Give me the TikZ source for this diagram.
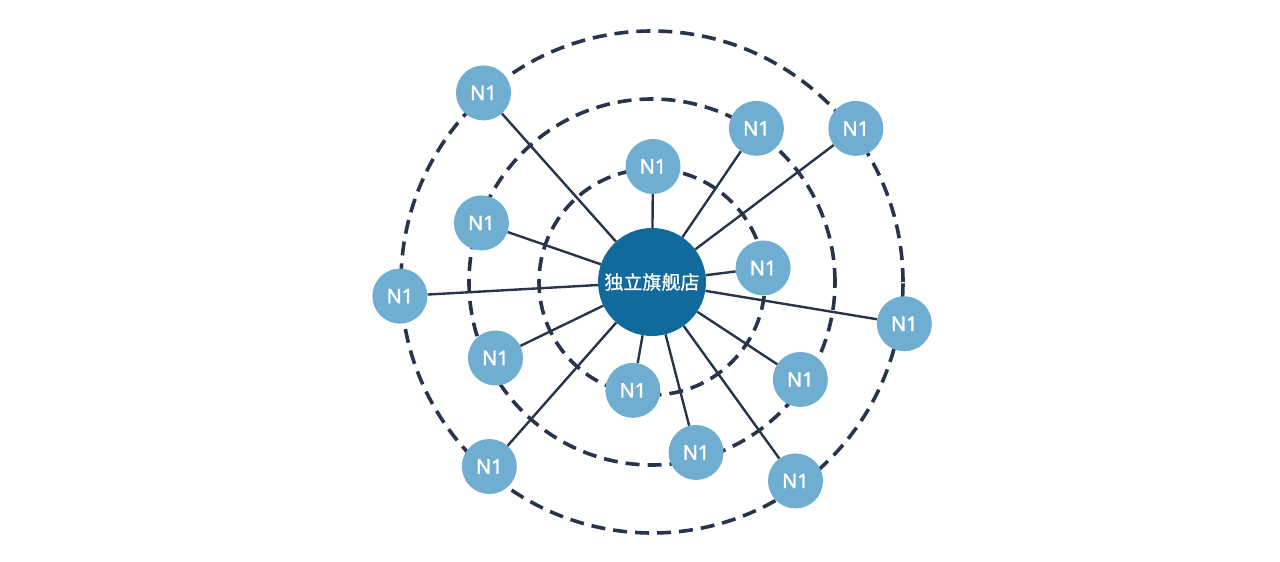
\documentclass[tikz,border=0pt]{standalone}
\usepackage{fontspec}
\newfontfamily\labelfont{Noto Sans}[FakeBold=1.6]
\newfontfamily\cjk{Noto Sans CJK SC}[FakeBold=0.8]
\usepackage{tikz}
\usetikzlibrary{arrows,positioning}
\definecolor{nodeblue}{HTML}{6FAED1}
\definecolor{hubblue}{HTML}{12699B}
\definecolor{linenavy}{HTML}{28334C}
\tikzstyle{nv}=[circle, fill=nodeblue, text=white, inner sep=0pt, minimum size=55pt, font=\labelfont\fontsize{20}{20}\selectfont]
\tikzstyle{hub}=[circle, fill=hubblue, text=white, inner sep=0pt, minimum size=108pt, font=\cjk\fontsize{19}{19}\selectfont]
\tikzstyle{ring}=[draw=linenavy, line width=3.6pt, dash pattern=on 14pt off 8pt]
\tikzstyle{spoke}=[draw=linenavy, line width=2.4pt]

\begin{document}
\begin{tikzpicture}[x=1pt, y=1pt]
\useasboundingbox (-652,-280) rectangle (628,282);
%
  \coordinate (o) at (0,0);
  \draw[ring] (o) circle (113pt);
  \draw[ring] (o) circle (183pt);
  \draw[ring] (o) circle (251pt);
%
  \node[hub] (shop) at (o) {独立旗舰店};
%
  \node[nv] (na) at (131.7:253.3) {N1};
  \node[nv] (nb) at (55.8:185.8) {N1};
  \node[nv] (nc) at (37.0:255.2) {N1};
  \node[nv] (nd) at (89.5:115.5) {N1};
  \node[nv] (ne) at (160.9:180.5) {N1};
  \node[nv] (nf) at (7.2:112) {N1};
  \node[nv] (ng) at (183.2:252.5) {N1};
  \node[nv] (nh) at (-9.4:255.8) {N1};
  \node[nv] (ni) at (205.9:174) {N1};
  \node[nv] (nj) at (260:110) {N1};
  \node[nv] (nk) at (-33.3:177.5) {N1};
  \node[nv] (nl) at (-75.5:176.1) {N1};
  \node[nv] (nm) at (228.6:246) {N1};
  \node[nv] (nn) at (-54.2:245.3) {N1};
%
  \path[spoke]
  (shop) edge (na)
  (shop) edge (nb)
  (shop) edge (nc)
  (shop) edge (nd)
  (shop) edge (ne)
  (shop) edge (nf)
  (shop) edge (ng)
  (shop) edge (nh)
  (shop) edge (ni)
  (shop) edge (nj)
  (shop) edge (nk)
  (shop) edge (nl)
  (shop) edge (nm)
  (shop) edge (nn);
\end{tikzpicture}
\end{document}
